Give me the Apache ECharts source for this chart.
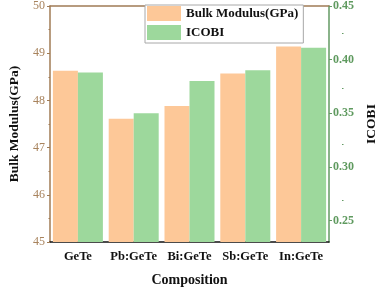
<!DOCTYPE html>
<html><head><meta charset="utf-8">
<script src="https://cdn.jsdelivr.net/npm/echarts@6/dist/echarts.min.js"></script>
<style>html,body{margin:0;padding:0;background:#fff}#c{width:387px;height:292px}</style>
</head><body><div id="c"></div>
<script>
var categories = ['GeTe', 'Pb:GeTe', 'Bi:GeTe', 'Sb:GeTe', 'In:GeTe'];
var bulkModulus = [48.63, 47.61, 47.88, 48.57, 49.14];
var icobi = [0.388, 0.350, 0.380, 0.390, 0.411];
var leftTicks = [45, 46, 47, 48, 49, 50];
var rightTicks = [0.25, 0.30, 0.35, 0.40, 0.45];
var rightMinor = [0.275, 0.325, 0.375, 0.425];

var FONT = 'Liberation Serif';
var BROWN = '#a07b55';
var GREEN = '#639a63';
var ORANGE = '#fdc898';
var LGREEN = '#9dd89c';
var rect = {left: 38, right: 45, top: 5, bottom: 42};

var chart = echarts.init(document.getElementById('c'), null, {renderer: 'canvas'});
chart.setOption({
  animation: false,
  grid: [Object.assign({}, rect), Object.assign({}, rect)],
  legend: {
    orient: 'vertical', left: 145, top: 5, icon: 'rect',
    itemWidth: 34, itemHeight: 15, itemGap: 4,
    padding: [1, 5, 3, 2],
    borderColor: '#a8a8a8', borderWidth: 1, backgroundColor: '#fff',
    textStyle: {fontFamily: FONT, fontWeight: 'bold', fontSize: 13, color: '#111'},
    data: ['Bulk Modulus(GPa)', 'ICOBI'], z: 10
  },
  xAxis: [
    {type: 'category', gridIndex: 0, position: 'bottom', data: categories,
     name: 'Composition', nameLocation: 'middle', nameGap: 31,
     nameTextStyle: {fontFamily: FONT, fontWeight: 'bold', fontSize: 14, color: '#111'},
     axisLine: {lineStyle: {color: '#111', width: 1.5}},
     axisTick: {alignWithLabel: true, length: 3, lineStyle: {color: '#111'}},
     axisLabel: {fontFamily: FONT, fontWeight: 'bold', fontSize: 12.5, color: '#111', margin: 8,
                 interval: 0, hideOverlap: false}},
    {type: 'category', gridIndex: 0, position: 'top', data: categories,
     axisLine: {lineStyle: {color: BROWN, width: 1.5}},
     axisTick: {inside: true, alignWithLabel: true, length: 3, lineStyle: {color: '#111'}},
     axisLabel: {show: false}},
    {type: 'category', gridIndex: 1, position: 'bottom', data: categories,
     axisLine: {show: false},
     axisTick: {length: 3, lineStyle: {color: '#111'}},
     axisLabel: {show: false}},
    {type: 'category', gridIndex: 1, position: 'top', data: categories,
     axisLine: {show: false},
     axisTick: {inside: true, length: 3, lineStyle: {color: '#111'}},
     axisLabel: {show: false}}
  ],
  yAxis: [
    {type: 'value', gridIndex: 0, position: 'left', min: 45, max: 50, interval: 1,
     name: 'Bulk Modulus(GPa)', nameLocation: 'middle', nameGap: 28,
     nameTextStyle: {fontFamily: FONT, fontWeight: 'bold', fontSize: 13.5, color: '#111'},
     axisLine: {show: true, lineStyle: {color: BROWN, width: 1.5}},
     axisTick: {show: true, length: 3, lineStyle: {color: BROWN}},
     minorTick: {show: true, splitNumber: 2, length: 1.5, lineStyle: {color: BROWN}},
     splitLine: {show: false},
     axisLabel: {fontFamily: FONT, fontSize: 12, color: '#a8835d', margin: 5,
                 customValues: leftTicks}},
    {type: 'value', gridIndex: 0, position: 'right', min: 0.23, max: 0.45,
     name: 'ICOBI', nameLocation: 'middle', nameGap: 36, nameRotate: 90,
     nameTextStyle: {fontFamily: FONT, fontWeight: 'bold', fontSize: 13.5, color: '#111'},
     axisLine: {show: true, lineStyle: {color: GREEN, width: 1.5}},
     axisTick: {show: true, length: 3, lineStyle: {color: GREEN}, customValues: rightTicks},
     splitLine: {show: false},
     axisLabel: {fontFamily: FONT, fontWeight: 'bold', fontSize: 12, color: '#5f9a5f', margin: 4,
                 customValues: rightTicks,
                 formatter: function (v) { return v.toFixed(2); }}},
    {type: 'value', gridIndex: 1, position: 'left', min: 45, max: 50, show: false},
    {type: 'value', gridIndex: 1, position: 'right', min: 0.23, max: 0.45,
     axisLine: {show: false}, splitLine: {show: false}, axisLabel: {show: false},
     axisTick: {show: true, length: 1.5, lineStyle: {color: GREEN}, customValues: rightMinor}}
  ],
  series: [
    {name: 'Bulk Modulus(GPa)', type: 'bar', xAxisIndex: 0, yAxisIndex: 0,
     data: bulkModulus, barWidth: 25, barGap: '0%',
     itemStyle: {color: ORANGE}},
    {name: 'ICOBI', type: 'bar', xAxisIndex: 0, yAxisIndex: 1,
     data: icobi, barWidth: 25, barGap: '0%',
     itemStyle: {color: LGREEN}}
  ]
});
</script></body></html>
